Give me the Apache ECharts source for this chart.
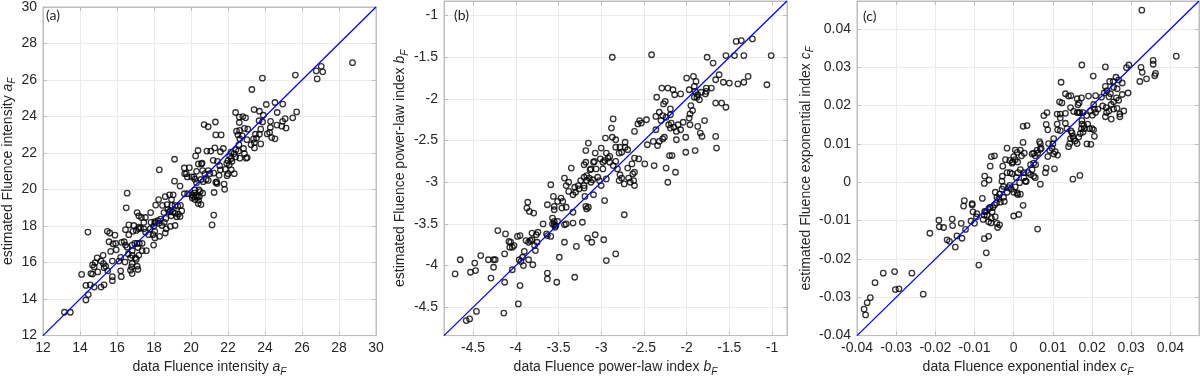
<!DOCTYPE html>
<html>
<head>
<meta charset="utf-8">
<script src="https://cdn.jsdelivr.net/npm/echarts@6/dist/echarts.min.js"></script>
<style>
html,body{margin:0;padding:0;background:#fff;}
#chart{width:1200px;height:382px;}
</style>
</head>
<body>
<div id="chart"></div>
<script>
// ---------- Panel (a): Fluence intensity a_F ----------
const aDataX = [28.73,27.04,26.77,27.12,26.82,25.64,23.86,23.29,24.54,24.07,24.96,25.71,24.66,25.50,25.09,24.95,24.64,25.14,24.91,24.30,24.29,24.25,24.12,24.36,24.54,23.41,23.70,23.91,23.68,23.87,23.77,23.48,23.70,23.54,23.38,23.43,23.77,23.43,23.25,23.07,22.89,22.63,22.41,22.61,22.80,22.95,22.61,22.46,22.54,22.77,22.64,23.02,22.59,22.84,22.89,22.98,23.04,22.43,22.57,22.32,22.41,22.64,22.16,22.09,22.18,22.00,22.21,22.07,21.93,21.86,22.18,22.00,22.34,21.95,21.75,21.59,21.63,21.34,21.32,20.71,20.93,21.29,20.86,21.07,20.38,20.25,21.20,21.43,21.55,21.59,21.52,21.23,20.93,20.40,20.57,20.60,20.30,20.63,20.75,21.02,20.54,20.82,20.21,20.66,20.93,21.39,21.41,21.34,20.16,20.04,20.30,20.43,20.50,20.21,20.18,20.25,20.14,20.34,20.45,20.07,20.21,20.41,20.39,20.54,20.04,20.63,21.79,21.82,21.25,21.23,21.14,19.66,19.11,19.64,19.91,19.75,19.80,19.11,19.41,19.64,19.82,18.29,18.84,19.04,18.61,18.95,18.25,18.46,18.09,18.71,18.96,19.14,19.29,19.43,18.75,18.89,18.54,18.82,19.02,19.14,19.32,19.50,19.41,19.23,18.93,18.36,18.64,18.21,18.04,18.07,17.84,18.27,18.55,18.43,17.98,17.80,18.04,17.95,17.71,18.66,18.61,18.88,19.14,18.30,18.05,17.98,17.54,17.45,17.18,17.09,17.18,17.32,17.54,16.64,16.91,17.04,16.86,17.18,17.27,17.45,17.82,16.64,16.46,16.55,16.50,15.48,15.61,15.89,14.43,15.57,15.79,15.93,15.66,15.96,16.25,16.39,16.46,16.55,16.82,16.96,17.09,17.21,17.36,17.13,17.36,17.59,16.82,16.61,16.82,17.00,17.04,17.18,16.73,16.20,16.11,16.43,15.75,15.25,14.93,15.14,15.27,14.82,14.68,14.77,14.59,14.09,15.30,15.39,15.50,15.75,16.20,16.23,16.82,16.79,16.73,16.82,17.09,17.13,15.75,15.30,15.14,14.77,14.55,14.32,14.45,14.32,13.16,13.48,14.68,14.96];
const aDataY = [26.95,26.75,26.50,26.45,26.06,26.27,26.10,25.48,24.77,24.66,24.68,24.25,24.22,23.93,23.88,23.74,23.53,23.37,23.47,23.74,23.40,23.13,23.05,22.85,22.78,24.38,24.29,24.07,23.77,23.70,23.31,23.03,23.03,22.82,22.76,22.57,22.50,22.28,22.46,23.31,23.35,23.24,24.22,23.97,24.00,23.93,23.67,23.20,22.99,22.94,22.78,22.73,22.46,22.25,21.96,21.72,21.75,22.18,22.11,21.96,21.79,21.72,22.05,21.84,21.70,21.57,21.54,21.36,21.43,21.10,21.08,20.87,20.87,20.76,22.25,22.07,22.99,22.99,23.70,23.56,23.44,22.28,22.11,22.11,22.14,21.84,21.60,21.54,21.31,21.08,20.78,20.90,21.04,21.40,21.40,21.45,21.00,21.04,20.87,20.87,20.55,20.55,20.57,20.43,20.50,20.42,20.33,20.39,20.69,20.69,20.37,19.98,19.89,19.98,19.80,19.66,19.62,19.59,19.62,19.54,19.45,19.41,19.23,19.18,19.71,19.80,20.30,20.01,19.84,18.60,18.06,20.87,21.66,21.18,21.20,20.87,20.69,20.46,20.19,19.77,19.77,21.08,19.71,19.71,19.61,19.45,19.45,19.13,19.15,19.18,19.13,19.13,19.09,19.13,18.91,18.84,18.74,18.77,18.77,18.70,18.65,18.83,18.52,18.51,18.56,18.38,18.42,18.29,18.24,18.17,18.20,18.15,18.20,18.03,17.99,17.85,17.71,17.53,17.53,17.85,17.62,17.98,18.03,17.44,17.35,16.96,17.67,17.85,17.94,18.74,18.56,18.47,18.47,18.06,18.03,17.76,17.71,17.85,17.90,18.20,18.74,17.53,17.80,19.80,19.00,17.71,17.62,17.50,17.67,17.14,17.02,17.05,16.61,16.70,17.11,17.14,16.96,16.84,16.96,17.05,17.05,17.05,17.05,16.82,16.65,16.65,16.65,16.47,16.40,16.26,16.17,16.40,16.26,16.29,16.08,16.03,16.08,16.40,16.26,16.08,15.94,15.99,15.87,15.76,15.40,15.35,15.72,15.80,15.55,15.23,15.55,15.23,15.94,15.76,15.58,15.40,15.80,15.62,15.01,14.78,14.66,14.66,14.78,14.75,14.25,13.95,13.28,13.28,15.37,15.49];
const aRange = [12, 30];
const aTicks = 2;

// ---------- Panel (b): Fluence power-law index b_F ----------
const bDataX = [-1.01,-1.42,-1.36,-1.23,-1.44,-1.54,-1.33,-1.76,-1.69,-1.62,-1.66,-1.28,-1.40,-1.50,-1.57,-1.33,-1.06,-1.71,-1.77,-1.77,-1.78,-1.83,-1.87,-1.85,-1.66,-1.59,-1.54,-1.66,-1.65,-1.79,-1.87,-1.84,-1.82,-1.92,-2.00,-1.97,-1.89,-1.91,-1.90,-1.91,-1.88,-1.95,-1.93,-1.96,-1.97,-2.04,-1.96,-2.01,-2.01,-1.90,-2.07,-2.16,-2.22,-2.14,-2.29,-2.35,-2.25,-2.27,-2.19,-2.32,-2.36,-2.28,-2.24,-2.19,-2.18,-2.21,-2.10,-2.15,-2.07,-2.12,-2.19,-2.30,-2.47,-2.53,-2.57,-2.55,-2.61,-2.36,-2.39,-2.32,-2.34,-2.26,-2.46,-2.28,-2.12,-2.20,-2.17,-2.38,-2.24,-2.13,-2.22,-2.49,-2.56,-2.61,-2.64,-2.69,-2.68,-2.66,-2.63,-2.62,-2.61,-2.73,-2.73,-2.61,-2.79,-2.76,-2.78,-2.81,-2.83,-2.79,-2.76,-2.78,-2.83,-2.83,-2.72,-2.72,-2.87,-2.86,-2.88,-2.95,-2.87,-2.41,-2.69,-2.94,-2.92,-2.90,-3.00,-3.01,-2.98,-2.96,-2.90,-2.86,-3.07,-3.08,-3.06,-2.98,-2.94,-3.02,-3.00,-3.04,-3.10,-3.14,-3.12,-3.09,-3.13,-3.12,-3.17,-3.20,-3.24,-3.20,-3.17,-3.18,-3.20,-3.18,-3.15,-3.20,-3.19,-3.18,-3.15,-3.17,-3.09,-2.96,-3.26,-3.31,-3.27,-3.33,-3.30,-3.38,-3.41,-3.43,-3.38,-3.35,-3.47,-3.45,-3.46,-3.51,-3.56,-3.55,-3.55,-3.63,-3.59,-3.41,-3.33,-3.43,-3.41,-3.33,-3.22,-3.57,-3.55,-3.57,-3.55,-3.53,-3.54,-3.51,-3.59,-3.63,-3.64,-3.43,-3.49,-3.29,-3.16,-3.11,-3.07,-2.97,-2.94,-2.83,-3.63,-3.63,-3.52,-3.31,-3.68,-3.74,-3.76,-3.81,-3.75,-3.78,-3.77,-3.83,-3.81,-3.88,-3.85,-3.86,-3.87,-3.84,-3.79,-3.85,-3.80,-3.92,-3.96,-3.90,-3.91,-3.94,-4.04,-4.02,-4.06,-4.07,-4.08,-4.04,-3.98,-3.95,-4.12,-4.21,-4.13,-4.26,-4.32,-4.24,-4.26,-4.41,-4.48,-4.47,-4.53,-4.65,-4.71,-4.29,-4.13,-3.95,-3.97,-4.14,-4.46,-4.54,-4.58];
const bDataY = [-1.48,-1.31,-1.30,-1.28,-1.48,-1.48,-1.48,-1.50,-1.57,-1.71,-1.77,-1.73,-1.82,-1.81,-1.80,-1.80,-1.83,-1.87,-1.87,-1.91,-1.94,-1.92,-1.95,-2.01,-2.05,-2.05,-2.10,-2.45,-2.59,-2.26,-2.33,-2.41,-2.45,-1.73,-1.75,-1.89,-1.79,-1.85,-1.91,-1.98,-1.98,-2.08,-2.14,-2.18,-2.23,-2.28,-2.31,-2.46,-2.64,-2.62,-1.94,-1.89,-1.87,-1.95,-1.87,-1.98,-2.03,-2.06,-2.12,-2.16,-2.21,-2.20,-2.22,-2.19,-2.29,-2.31,-2.31,-2.34,-2.37,-2.39,-2.35,-2.26,-2.25,-2.29,-2.30,-2.26,-2.39,-2.37,-2.51,-2.51,-2.56,-2.46,-2.55,-2.48,-2.49,-2.68,-2.68,-2.80,-2.83,-2.88,-3.00,-2.78,-2.72,-2.71,-2.78,-2.83,-2.95,-3.00,-2.90,-2.98,-3.04,-3.02,-3.39,-2.88,-2.98,-2.95,-2.91,-2.84,-2.75,-2.65,-2.64,-2.58,-2.58,-2.49,-2.58,-2.52,-2.46,-2.24,-2.35,-2.47,-1.50,-1.47,-2.61,-2.65,-2.71,-2.69,-2.59,-2.72,-2.76,-2.74,-2.76,-2.80,-2.65,-2.75,-2.84,-2.84,-2.96,-2.98,-3.04,-2.94,-2.97,-2.95,-3.00,-2.76,-2.85,-2.84,-2.98,-3.04,-2.98,-2.94,-2.92,-2.76,-2.79,-2.62,-2.53,-3.07,-3.17,-3.29,-3.30,-3.32,-3.15,-3.22,-3.08,-3.06,-3.04,-3.15,-3.12,-3.11,-3.04,-2.95,-3.00,-2.83,-3.19,-3.23,-3.31,-3.23,-3.17,-3.29,-3.33,-3.27,-3.03,-3.30,-3.36,-3.51,-3.50,-3.49,-3.48,-3.43,-3.47,-3.50,-3.51,-3.52,-3.54,-3.47,-3.65,-3.64,-3.62,-3.72,-3.90,-3.77,-3.67,-3.72,-3.63,-3.69,-3.94,-3.86,-4.09,-4.16,-4.20,-4.14,-3.50,-3.60,-3.63,-3.61,-3.72,-3.76,-3.82,-3.70,-3.69,-3.70,-3.72,-3.24,-3.31,-3.35,-3.37,-3.93,-3.99,-3.90,-3.93,-3.83,-4.00,-3.95,-4.05,-3.76,-3.72,-3.78,-3.71,-3.78,-3.65,-3.64,-3.62,-3.58,-3.86,-3.93,-3.93,-3.93,-4.02,-3.88,-3.97,-4.06,-4.08,-3.93,-4.10,-4.15,-4.20,-4.24,-4.46,-4.57,-4.55,-4.64,-4.66];
const bRange = [-4.84, -0.825];
const bTicks = 0.5;

// ---------- Panel (c): Fluence exponential index c_F ----------
const cDataX = [0.0327,0.0415,0.0356,0.0356,0.0325,0.0328,0.0360,0.0362,0.0339,0.0322,0.0294,0.0288,0.0268,0.0277,0.0292,0.0277,0.0261,0.0254,0.0245,0.0255,0.0234,0.0238,0.0243,0.0247,0.0262,0.0264,0.0268,0.0255,0.0249,0.0231,0.0234,0.0203,0.0209,0.0191,0.0224,0.0227,0.0236,0.0237,0.0243,0.0255,0.0264,0.0281,0.0271,0.0271,0.0249,0.0234,0.0215,0.0209,0.0201,0.0204,0.0206,0.0196,0.0186,0.0177,0.0173,0.0174,0.0162,0.0146,0.0140,0.0132,0.0121,0.0117,0.0123,0.0145,0.0164,0.0167,0.0153,0.0162,0.0166,0.0169,0.0132,0.0119,0.0111,0.0119,0.0132,0.0111,0.0085,0.0077,0.0083,0.0087,0.0112,0.0119,0.0136,0.0146,0.0149,0.0151,0.0145,0.0153,0.0157,0.0143,0.0140,0.0162,0.0174,0.0174,0.0179,0.0173,0.0177,0.0170,0.0180,0.0189,0.0194,0.0200,0.0204,0.0206,0.0187,0.0197,0.0166,0.0151,0.0169,0.0102,0.0100,0.0089,0.0098,0.0106,0.0112,0.0102,0.0092,0.0087,0.0083,0.0081,0.0104,0.0066,0.0068,0.0068,0.0060,0.0070,0.0051,0.0047,0.0055,0.0061,0.0051,0.0056,0.0043,0.0047,0.0037,0.0043,0.0051,0.0055,0.0068,0.0061,0.0024,0.0034,0.0024,0.0027,0.0020,0.0017,0.0009,0.0004,0.0004,0.0010,0.0000,-0.0003,-0.0017,-0.0021,-0.0010,-0.0004,-0.0017,-0.0009,-0.0004,0.0011,0.0017,0.0007,0.0026,0.0030,0.0026,0.0032,0.0015,0.0004,0.0009,0.0010,0.0017,0.0000,-0.0006,-0.0010,-0.0013,-0.0017,-0.0026,-0.0030,-0.0036,-0.0026,-0.0029,-0.0030,-0.0028,-0.0047,-0.0043,-0.0038,-0.0024,-0.0034,-0.0044,-0.0049,-0.0053,-0.0060,-0.0064,-0.0055,-0.0047,-0.0057,-0.0058,-0.0043,-0.0036,-0.0041,-0.0064,-0.0072,-0.0075,-0.0068,-0.0078,-0.0064,-0.0075,-0.0070,-0.0089,0.0000,0.0013,0.0024,-0.0057,-0.0049,-0.0060,-0.0063,-0.0074,-0.0075,-0.0080,-0.0074,-0.0094,-0.0104,-0.0106,-0.0106,-0.0095,-0.0100,-0.0109,-0.0126,-0.0128,-0.0123,-0.0134,-0.0145,-0.0132,-0.0149,-0.0170,-0.0164,-0.0157,-0.0156,-0.0179,-0.0191,-0.0190,-0.0214,-0.0231,-0.0260,-0.0304,-0.0302,-0.0293,-0.0333,-0.0354,-0.0366,-0.0374,-0.0382,-0.0378];
const cDataY = [0.0449,0.0329,0.0318,0.0308,0.0300,0.0287,0.0278,0.0284,0.0270,0.0263,0.0306,0.0299,0.0267,0.0259,0.0233,0.0229,0.0274,0.0263,0.0263,0.0248,0.0250,0.0239,0.0223,0.0231,0.0220,0.0244,0.0214,0.0210,0.0203,0.0233,0.0301,0.0277,0.0226,0.0225,0.0222,0.0199,0.0195,0.0182,0.0186,0.0191,0.0193,0.0186,0.0178,0.0171,0.0165,0.0171,0.0191,0.0182,0.0175,0.0203,0.0191,0.0186,0.0174,0.0182,0.0220,0.0306,0.0218,0.0226,0.0225,0.0231,0.0261,0.0210,0.0207,0.0195,0.0202,0.0207,0.0185,0.0182,0.0182,0.0182,0.0180,0.0178,0.0178,0.0168,0.0154,0.0152,0.0182,0.0174,0.0151,0.0137,0.0137,0.0135,0.0140,0.0134,0.0129,0.0120,0.0114,0.0114,0.0108,0.0101,0.0093,0.0101,0.0152,0.0161,0.0148,0.0140,0.0131,0.0127,0.0140,0.0152,0.0140,0.0140,0.0137,0.0120,0.0100,0.0099,0.0118,0.0008,0.0018,0.0114,0.0100,0.0101,0.0089,0.0080,0.0071,0.0074,0.0083,0.0067,0.0037,0.0025,0.0035,0.0106,0.0101,0.0086,0.0084,0.0089,0.0076,0.0074,0.0069,0.0076,0.0050,0.0046,0.0046,0.0033,0.0025,0.0020,0.0016,0.0012,-0.0005,-0.0122,0.0146,0.0148,0.0104,0.0076,0.0069,0.0084,0.0078,0.0084,0.0059,0.0053,0.0067,0.0053,0.0089,0.0059,0.0057,0.0050,0.0025,0.0025,0.0022,0.0025,0.0033,0.0012,0.0012,0.0003,0.0025,0.0002,-0.0001,-0.0012,-0.0028,-0.0032,-0.0031,-0.0026,-0.0018,-0.0008,-0.0014,-0.0026,-0.0011,-0.0018,-0.0031,-0.0039,0.0016,0.0003,0.0042,-0.0026,-0.0039,-0.0043,-0.0050,-0.0052,-0.0054,-0.0059,-0.0066,-0.0065,-0.0069,-0.0077,-0.0090,-0.0094,-0.0106,-0.0107,-0.0111,-0.0118,-0.0103,-0.0077,-0.0086,-0.0086,-0.0097,-0.0141,-0.0147,-0.0184,-0.0216,-0.0088,-0.0084,-0.0060,0.0067,0.0069,0.0042,0.0006,0.0016,-0.0003,-0.0042,-0.0076,-0.0082,-0.0077,-0.0056,-0.0059,-0.0090,-0.0107,-0.0101,-0.0048,-0.0062,-0.0123,-0.0107,-0.0140,-0.0146,-0.0169,-0.0150,-0.0154,-0.0096,-0.0113,-0.0118,-0.0099,-0.0116,-0.0133,-0.0292,-0.0237,-0.0233,-0.0280,-0.0278,-0.0237,-0.0262,-0.0301,-0.0314,-0.0331,-0.0346];
const cRange = [-0.04, 0.0473];
const cTicks = 0.01;

// ---------- Texts ----------
const panelLabels = ['(a)', '(b)', '(c)'];
const xNames = ['data Fluence intensity {it|a}{sub|F}', 'data Fluence power-law index {it|b}{sub|F}', 'data Fluence exponential index {it|c}{sub|F}'];
const yNames = ['estimated Fluence intensity {it|a}{sub|F}', 'estimated Fluence power-law index {it|b}{sub|F}', 'estimated Fluence exponential index {it|c}{sub|F}'];

// ---------- Build option ----------
const FONT = 'Liberation Sans, Arial, sans-serif';
const TXT = '#262626';
const BOX = '#bdbdbd';
const GRIDC = '#ebebeb';

const grids = [
  {left: 39, top: 5, width: 337, height: 338},
  {left: 444, top: 1, width: 343, height: 342},
  {left: 857, top: 1, width: 342, height: 342}
];
const yGaps = [22, 28, 37];
const ranges = [aRange, bRange, cRange];
const steps = [aTicks, bTicks, cTicks];
const showMin = [true, false, true];
const showMax = [true, false, false];

const richName = {
  it: {fontStyle: 'italic', fontSize: 14, fontFamily: FONT, color: TXT},
  sub: {fontStyle: 'italic', fontSize: 10, fontFamily: FONT, color: TXT, padding: [9, 0, 0, 0]}
};

function axisCfg(i, dim, main) {
  const r = ranges[i];
  const cfg = {
    type: 'value',
    gridIndex: i,
    min: r[0], max: r[1],
    splitNumber: Math.round((r[1] - r[0]) / steps[i]),
    minInterval: steps[i], maxInterval: steps[i],
    axisLine: {show: true, onZero: false, lineStyle: {color: BOX, width: 1}},
    axisTick: {show: true, inside: true, length: 4, lineStyle: {color: BOX, width: 1}},
    splitLine: {show: main, lineStyle: {color: GRIDC, width: 1}},
    axisLabel: {show: main, color: TXT, fontSize: 14, fontFamily: FONT, margin: 6,
      showMinLabel: showMin[i], showMaxLabel: showMax[i]},
    position: dim === 'x' ? (main ? 'bottom' : 'top') : (main ? 'left' : 'right')
  };
  if (i === 0) { cfg.interval = steps[i]; delete cfg.minInterval; delete cfg.maxInterval; }
  if (main) {
    cfg.name = dim === 'x' ? xNames[i] : yNames[i];
    cfg.nameLocation = 'middle';
    cfg.nameGap = dim === 'x' ? 18 : yGaps[i];
    cfg.nameTextStyle = {fontSize: 14, fontFamily: FONT, color: TXT, rich: richName};
  }
  return cfg;
}

const xAxes = [], yAxes = [], series = [];
const dataX = [aDataX, bDataX, cDataX];
const dataY = [aDataY, bDataY, cDataY];
for (let i = 0; i < 3; i++) {
  xAxes.push(axisCfg(i, 'x', true));
  xAxes.push(axisCfg(i, 'x', false));
  yAxes.push(axisCfg(i, 'y', true));
  yAxes.push(axisCfg(i, 'y', false));
  const pts = dataX[i].map((v, k) => [v, dataY[i][k]]);
  series.push({
    type: 'scatter', xAxisIndex: 2 * i, yAxisIndex: 2 * i,
    data: pts, symbol: 'circle', symbolSize: 5.5,
    itemStyle: {color: 'rgba(255,255,255,0)', borderColor: '#000', borderWidth: 1.3},
    silent: true, z: 2
  });
  series.push({
    type: 'line', xAxisIndex: 2 * i, yAxisIndex: 2 * i,
    data: [[ranges[i][0], ranges[i][0]], [ranges[i][1], ranges[i][1]]],
    symbol: 'none', lineStyle: {color: '#0000ff', width: 1.3},
    silent: true, z: 3
  });
}

const titles = [
  {text: panelLabels[0], left: 46, top: 8},
  {text: panelLabels[1], left: 454, top: 8},
  {text: panelLabels[2], left: 863, top: 9}
].map(t => Object.assign(t, {padding: 0, textStyle: {fontSize: 14, fontWeight: 'normal', color: TXT, fontFamily: 'Lato, sans-serif'}}));

const option = {
  animation: false,
  backgroundColor: '#fff',
  title: titles,
  grid: grids.map(g => Object.assign({show: true, borderColor: BOX, borderWidth: 1, backgroundColor: 'transparent', containLabel: false}, g)),
  xAxis: xAxes,
  yAxis: yAxes,
  series: series
};

const chart = echarts.init(document.getElementById('chart'), null, {renderer: 'canvas'});
chart.setOption(option);
</script>
</body>
</html>
